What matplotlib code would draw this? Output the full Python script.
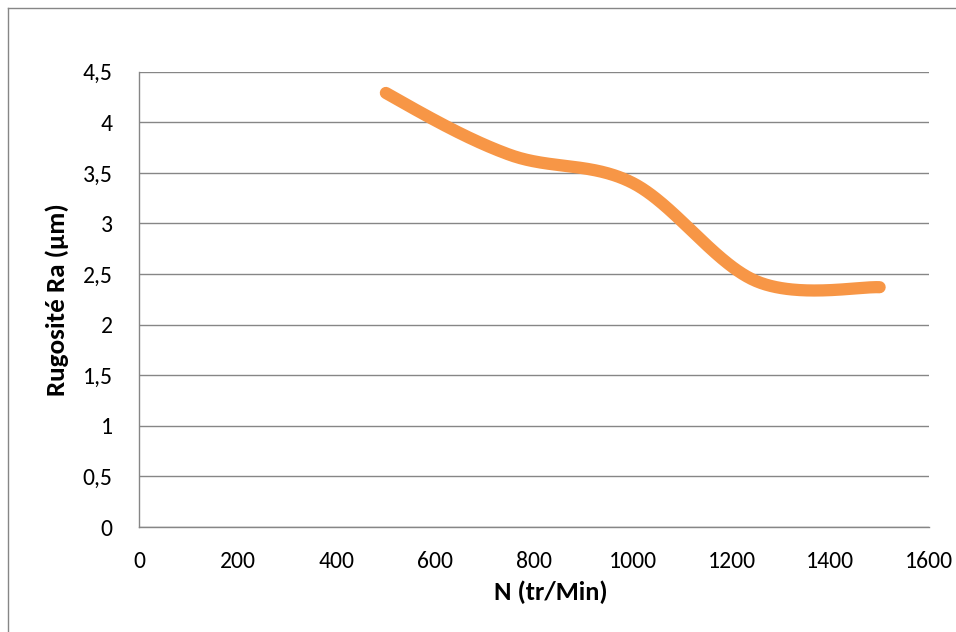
import numpy as np
import matplotlib
matplotlib.use("Agg")
import matplotlib.pyplot as plt
from matplotlib.lines import Line2D

# Data
speed = [500, 750, 1000, 1250, 1500]
roughness = [4.29, 3.68, 3.40, 2.43, 2.37]
x_ticks = [0, 200, 400, 600, 800, 1000, 1200, 1400, 1600]
y_ticks = [0, 0.5, 1, 1.5, 2, 2.5, 3, 3.5, 4, 4.5]
y_tick_labels = ["0", "0,5", "1", "1,5", "2", "2,5", "3", "3,5", "4", "4,5"]
x_label = "N (tr/Min)"
y_label = "Rugosité Ra (µm)"


def smooth_curve(xs, ys, n=80):
    """Bezier smoothing similar to a spreadsheet 'smoothed line'."""
    P = np.column_stack([np.asarray(xs, float), np.asarray(ys, float)])
    m = len(P)
    out = []
    for i in range(m - 1):
        p1, p2 = P[i], P[i + 1]
        p3 = P[i + 2] if i + 2 < m else P[i + 1]
        c2 = p2 - (p3 - p1) / 6.0
        if i == 0:
            c1 = (p1 + c2) / 2.0
        else:
            c1 = p1 + (p2 - P[i - 1]) / 6.0
        t = np.linspace(0, 1, n)[:, None]
        seg = (1 - t) ** 3 * p1 + 3 * (1 - t) ** 2 * t * c1 + 3 * (1 - t) * t ** 2 * c2 + t ** 3 * p2
        out.append(seg if i == 0 else seg[1:])
    arr = np.vstack(out)
    return arr[:, 0], arr[:, 1]


plt.rcParams['font.family'] = ['Carlito', 'Lato', 'DejaVu Sans']

W, H = 956, 632
fig = plt.figure(figsize=(W / 100, H / 100), dpi=100)
ax = fig.add_axes([139 / W, 1 - 527 / H, (929 - 139) / W, (527 - 71.7) / H])

grid_color = "#868686"
ax.set_xlim(0, 1600)
ax.set_ylim(0, 4.5)
ax.set_xticks(x_ticks)
ax.set_xticklabels([str(v) for v in x_ticks])
ax.set_yticks(y_ticks)
ax.set_yticklabels(y_tick_labels)
ax.tick_params(length=0, labelsize=17, colors="black")
ax.tick_params(axis="y", pad=19)
ax.tick_params(axis="x", pad=17)
ax.yaxis.grid(True, color=grid_color, linewidth=1)
ax.set_axisbelow(True)
for s in ["top", "right"]:
    ax.spines[s].set_visible(False)
for s in ["left", "bottom"]:
    ax.spines[s].set_color(grid_color)
    ax.spines[s].set_linewidth(1)

sx, sy = smooth_curve(speed, roughness)
ax.plot(sx, sy, color="#F79646", linewidth=8.8, solid_capstyle="round", solid_joinstyle="round")

fig.text(551 / W, 1 - 592 / H, x_label, fontsize=19, fontweight="bold", ha="center", va="center")
fig.text(57 / W, 1 - 300 / H, y_label, fontsize=19.5, fontweight="bold", ha="center", va="center", rotation=90)

# chart-area frame (left and top edges visible in the crop)
fig.add_artist(Line2D([7.5 / W, 7.5 / W], [0, 1 - 7.5 / H], transform=fig.transFigure, color=grid_color, linewidth=1))
fig.add_artist(Line2D([7.5 / W, 1], [1 - 7.5 / H, 1 - 7.5 / H], transform=fig.transFigure, color=grid_color, linewidth=1))

fig.savefig("out.png", dpi=100)
